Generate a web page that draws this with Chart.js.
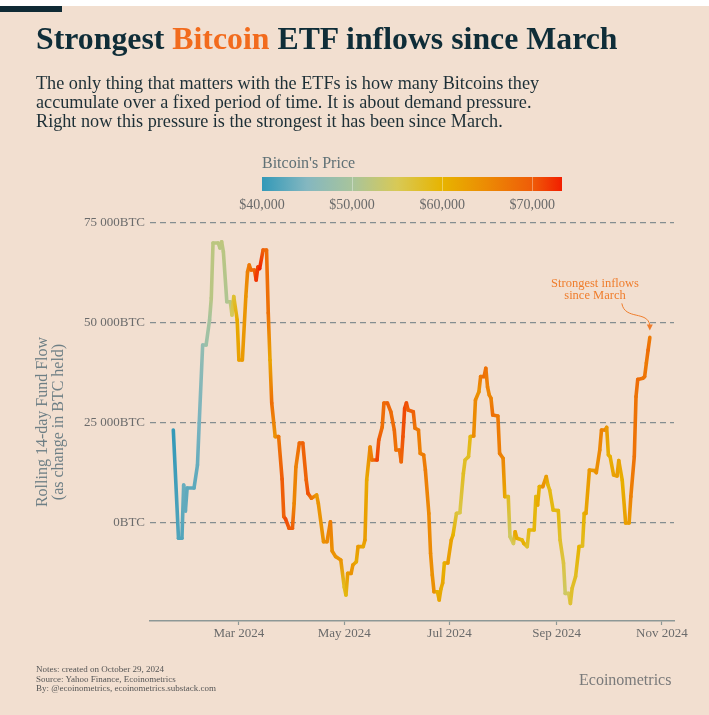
<!DOCTYPE html>
<html>
<head>
<meta charset="utf-8">
<title>Strongest Bitcoin ETF inflows since March</title>
<script src="https://cdn.jsdelivr.net/npm/chart.js@4.4.1/dist/chart.umd.min.js"></script>
<style>
  html, body { margin: 0; padding: 0; background: #f2dfd0; }
  #page { position: relative; width: 709px; height: 715px; overflow: hidden; background: #f2dfd0; font-family: "Liberation Serif", "Times New Roman", serif; }
  #topband { position: absolute; left: 0; top: 0; width: 709px; height: 6px; background: #ffffff; }
  #topbar { position: absolute; left: 0; top: 6px; width: 62px; height: 6px; background: #0f2a35; }
  #title { position: absolute; left: 36px; top: 23px; font-size: 31.8px; line-height: 32px; font-weight: bold; color: #0f2d38; white-space: nowrap; }
  #title span { color: #f26b1d; }
  #subtitle { position: absolute; left: 36px; top: 74px; font-size: 18.2px; line-height: 19px; color: #1d2f36; white-space: nowrap; }
  #legend-title { position: absolute; left: 262px; top: 155px; font-size: 16px; line-height: 16px; color: #5f7075; }
  #colorbar { position: absolute; left: 262px; top: 177px; width: 300px; height: 14px; }
  .cb-label { position: absolute; top: 198px; font-size: 14px; line-height: 14px; color: #6a6a6a; transform: translateX(-50%); white-space: nowrap; }
  .cb-tick { position: absolute; top: 177px; width: 1px; height: 14px; background: rgba(255, 255, 255, 0.35); }
  #ytitle { position: absolute; left: -60.5px; top: 406px; width: 220px; height: 32px; font-size: 16px; line-height: 16px; color: #6e7f85; text-align: center; transform: rotate(-90deg); white-space: nowrap; }
  #annot { position: absolute; left: 545px; top: 278px; width: 100px; font-size: 12.5px; line-height: 11.5px; color: #ef7d2c; text-align: center; white-space: nowrap; }
  #notes { position: absolute; left: 36px; top: 665px; font-size: 9px; line-height: 9.5px; color: #555555; white-space: nowrap; }
  #brand { position: absolute; left: 579px; top: 671px; font-size: 16px; line-height: 18px; color: #7a7a7a; }
  #chart { position: absolute; left: 0; top: 0; }
</style>
</head>
<body>
<div id="page">
  <canvas id="chart" width="709" height="715"></canvas>
  <div id="topband"></div>
  <div id="topbar"></div>
  <div id="title">Strongest <span>Bitcoin</span> ETF inflows since March</div>
  <div id="subtitle">The only thing that matters with the ETFs is how many Bitcoins they<br>accumulate over a fixed period of time. It is about demand pressure.<br>Right now this pressure is the strongest it has been since March.</div>
  <div id="legend-title">Bitcoin's Price</div>
  <div id="colorbar"></div>
  <div id="ytitle">Rolling 14-day Fund Flow<br>(as change in BTC held)</div>
  <div id="annot">Strongest inflows<br>since March</div>
  <div id="notes">Notes: created on October 29, 2024<br>Source: Yahoo Finance, Ecoinometrics<br>By: @ecoinometrics, ecoinometrics.substack.com</div>
  <div id="brand">Ecoinometrics</div>
</div>
<script>
// Data
const dates = [
  '2024-01-23','2024-01-26','2024-01-28','2024-01-29','2024-01-30','2024-01-31','2024-02-04','2024-02-06','2024-02-07','2024-02-09',
  '2024-02-11','2024-02-13','2024-02-14','2024-02-15','2024-02-18','2024-02-19','2024-02-20','2024-02-21','2024-02-23','2024-02-25',
  '2024-02-26','2024-02-27','2024-02-29','2024-03-01','2024-03-03','2024-03-05','2024-03-06','2024-03-07','2024-03-08','2024-03-10',
  '2024-03-11','2024-03-12','2024-03-13','2024-03-15','2024-03-17','2024-03-18','2024-03-19','2024-03-20','2024-03-22','2024-03-24',
  '2024-03-26','2024-03-27','2024-03-28','2024-03-30','2024-04-01','2024-04-02','2024-04-03','2024-04-05','2024-04-07','2024-04-09',
  '2024-04-10','2024-04-12','2024-04-15','2024-04-16','2024-04-19','2024-04-21','2024-04-23','2024-04-24','2024-04-26','2024-04-29',
  '2024-05-01','2024-05-02','2024-05-03','2024-05-05','2024-05-06','2024-05-08','2024-05-09','2024-05-12','2024-05-13','2024-05-14',
  '2024-05-16','2024-05-17','2024-05-20','2024-05-21','2024-05-23','2024-05-24','2024-05-26','2024-05-28','2024-05-30','2024-05-31',
  '2024-06-02','2024-06-03','2024-06-04','2024-06-05','2024-06-06','2024-06-07','2024-06-10','2024-06-11','2024-06-13','2024-06-14',
  '2024-06-16','2024-06-17','2024-06-19','2024-06-20','2024-06-21','2024-06-22','2024-06-24','2024-06-25','2024-06-26','2024-06-27',
  '2024-06-28','2024-06-30','2024-07-02','2024-07-03','2024-07-05','2024-07-07','2024-07-09','2024-07-10','2024-07-12','2024-07-13',
  '2024-07-15','2024-07-16','2024-07-18','2024-07-19','2024-07-21','2024-07-22','2024-07-23','2024-07-24','2024-07-25','2024-07-26',
  '2024-07-29','2024-07-30','2024-08-01','2024-08-02','2024-08-04','2024-08-05','2024-08-07','2024-08-08','2024-08-09','2024-08-12',
  '2024-08-13','2024-08-15','2024-08-16','2024-08-19','2024-08-20','2024-08-21','2024-08-22','2024-08-24','2024-08-26','2024-08-27',
  '2024-08-28','2024-08-30','2024-09-02','2024-09-03','2024-09-05','2024-09-06','2024-09-08','2024-09-09','2024-09-10','2024-09-12',
  '2024-09-14','2024-09-16','2024-09-17','2024-09-18','2024-09-20','2024-09-23','2024-09-24','2024-09-26','2024-09-27','2024-09-29',
  '2024-09-30','2024-10-01','2024-10-02','2024-10-04','2024-10-06','2024-10-07','2024-10-09','2024-10-11','2024-10-13','2024-10-14',
  '2024-10-16','2024-10-17','2024-10-18','2024-10-21','2024-10-22','2024-10-23','2024-10-24','2024-10-25'
];

// rolling 14-day flow, BTC
const flows = [
  23250, -3800, -3800, 9500, 3000, 8750, 8750, 14500, 25000, 44500,
  44500, 50750, 56250, 70000, 70000, 68750, 70300, 67800, 55300, 55300,
  52000, 56600, 50750, 40750, 40750, 56600, 62800, 64500, 63250, 63250,
  60750, 64000, 63600, 68250, 68250, 52500, 40750, 30000, 21600, 21600,
  11000, 1600, 1000, -1300, -1300, 4900, 14000, 20000, 20000, 10750,
  7400, 6200, 7000, 4900, -4700, -4700, 300, -7000, -8400, -9250,
  -16000, -18000, -12600, -12600, -10500, -9700, -5900, -5900, -4250, 10750,
  19000, 15750, 15750, 20750, 24000, 30000, 30000, 27800, 23250, 18250,
  18250, 15300, 21600, 28700, 30000, 28250, 27800, 23700, 23250, 17400,
  17000, 13250, 2400, -7600, -13000, -17200, -17200, -19250, -16500, -15000,
  -10000, -10000, -4250, -3000, 2400, 2600, 12400, 15750, 16600, 21600,
  21750, 30750, 32800, 36600, 36600, 38700, 34000, 32000, 31200, 27000,
  26750, 17400, 16200, 6600, 6600, -3400, -5100, -2200, -3800, -4250,
  -5100, -5900, -1750, -1750, 6600, 4500, 9100, 9100, 11600, 9500,
  8250, 3250, 3100, -4250, -10000, -17600, -17600, -20100, -16300, -13400,
  -5900, -5750, 2400, 2400, 13250, 13100, 12600, 18250, 23250, 23250,
  23900, 17000, 16600, 12000, 11750, 15600, 10750, 0, 0, 6600,
  16600, 31600, 35900, 36200, 36600, 40000, 43250, 46400
];

// bitcoin price on those days, USD (drives the line colour)
const prices = [
  39900, 41800, 42000, 43300, 42900, 42600, 42600, 43100, 44300, 47100,
  48300, 49700, 51800, 52000, 52100, 51800, 52300, 51800, 50700, 51600,
  54500, 57100, 61200, 62400, 63100, 63800, 66100, 66900, 68300, 69000,
  72100, 71500, 73100, 69500, 68400, 67600, 61900, 67900, 64000, 67200,
  70000, 69500, 71000, 69900, 69700, 65500, 66000, 68500, 69400, 69100,
  70600, 67100, 63400, 63800, 64000, 64900, 66400, 64300, 63800, 63800,
  58200, 59100, 62900, 63900, 63200, 61200, 63100, 61500, 62900, 61600,
  65200, 67000, 71400, 70100, 67900, 68500, 69300, 68300, 68400, 67500,
  67800, 68800, 70500, 71100, 70800, 69300, 69600, 67300, 66800, 66000,
  66600, 66500, 65000, 64900, 64100, 64300, 60300, 61800, 60900, 61600,
  60300, 62700, 62100, 60200, 56700, 55800, 58000, 57700, 57900, 59200,
  64800, 65000, 63900, 66700, 68200, 67600, 65900, 65400, 65800, 68000,
  66800, 66200, 65400, 61500, 58100, 54000, 55000, 61700, 60900, 59400,
  60600, 57500, 58900, 59500, 59000, 61200, 60400, 64200, 62900, 59400,
  59000, 59100, 59100, 57500, 56200, 53900, 54800, 57000, 57600, 58100,
  60000, 58200, 60300, 61800, 63200, 63300, 64300, 65200, 65800, 65600,
  63300, 60800, 60600, 62100, 62800, 62200, 60600, 62500, 62900, 66000,
  67600, 67400, 68400, 67400, 67400, 66700, 68200, 66600
];

const xTickDates = ['2024-03-01', '2024-05-01', '2024-07-01', '2024-09-01', '2024-11-01'];
const xTickLabels = ['Mar 2024', 'May 2024', 'Jul 2024', 'Sep 2024', 'Nov 2024'];
const yTicks = [0, 25000, 50000, 75000];
const yTickLabels = ['0BTC', '25 000BTC', '50 000BTC', '75 000BTC'];

// colour scale for the price
const legendTicks = [40000, 50000, 60000, 70000];
const legendLabels = ['$40,000', '$50,000', '$60,000', '$70,000'];
const colorStops = [40000, 45000, 50000, 55000, 60000, 65000, 70000, 73300];
const colorHex = ['#3399b8', '#84b7c0', '#a8c49c', '#d8c956', '#e7b400', '#ec8a04', '#ef5c08', '#f21e00'];

const dayOf = s => (Date.UTC(+s.slice(0, 4), +s.slice(5, 7) - 1, +s.slice(8, 10)) - Date.UTC(2024, 0, 1)) / 86400000;

const hexRgb = h => [1, 3, 5].map(i => parseInt(h.slice(i, i + 2), 16));
function priceColor(p) {
    const lo = colorStops[0], hi = colorStops[colorStops.length - 1];
    p = Math.min(hi, Math.max(lo, p));
    let i = 0;
    while (i < colorStops.length - 2 && p > colorStops[i + 1]) i++;
    const t = (p - colorStops[i]) / (colorStops[i + 1] - colorStops[i]);
    const a = hexRgb(colorHex[i]), b = hexRgb(colorHex[i + 1]);
    const c = a.map((v, k) => Math.round(v + (b[k] - v) * t));
    return `rgb(${c[0]},${c[1]},${c[2]})`;
}

// Legend colour bar
const cbMin = colorStops[0], cbMax = colorStops[colorStops.length - 1];
const pct = v => ((v - cbMin) / (cbMax - cbMin) * 100).toFixed(2) + '%';
document.getElementById('colorbar').style.background =
    'linear-gradient(to right, ' + colorStops.map((v, i) => `${colorHex[i]} ${pct(v)}`).join(', ') + ')';
const page = document.getElementById('page');
legendTicks.forEach((v, i) => {
    const x = 262 + (v - cbMin) / (cbMax - cbMin) * 300;
    const lab = document.createElement('div');
    lab.className = 'cb-label';
    lab.style.left = x + 'px';
    lab.innerText = legendLabels[i];
    page.appendChild(lab);
    if (i > 0) {
        const tk = document.createElement('div');
        tk.className = 'cb-tick';
        tk.style.left = x + 'px';
        page.appendChild(tk);
    }
});

// Arrow from the note to the last point
const arrowPlugin = {
    id: 'arrow',
    afterDatasetsDraw(chart) {
        const meta = chart.getDatasetMeta(0);
        const pt = meta.data[meta.data.length - 1];
        const tx = pt.x, ty = pt.y - 7;
        const c = chart.ctx;
        c.save();
        c.strokeStyle = '#ef7d2c';
        c.fillStyle = '#ef7d2c';
        c.lineWidth = 1;
        c.beginPath();
        c.moveTo(tx - 28, ty - 27);
        c.bezierCurveTo(tx - 25, ty - 10, tx - 2, ty - 20, tx, ty - 5);
        c.stroke();
        c.beginPath();
        c.moveTo(tx - 3, ty - 6);
        c.lineTo(tx + 3, ty - 6);
        c.lineTo(tx, ty);
        c.closePath();
        c.fill();
        c.restore();
    }
};

const font = { family: '"Liberation Serif", "Times New Roman", serif', size: 13 };

new Chart(document.getElementById('chart'), {
    type: 'line',
    data: {
        datasets: [{
            data: dates.map((d, i) => ({ x: dayOf(d), y: flows[i] })),
            borderColor: priceColor(prices[0]),
            borderWidth: 3.6,
            borderCapStyle: 'round',
            borderJoinStyle: 'round',
            pointRadius: 0,
            tension: 0,
            segment: {
                borderColor: ctx => {
                    const g = ctx.chart.ctx.createLinearGradient(ctx.p0.x, ctx.p0.y, ctx.p1.x, ctx.p1.y);
                    g.addColorStop(0, priceColor(prices[ctx.p0DataIndex]));
                    g.addColorStop(1, priceColor(prices[ctx.p1DataIndex]));
                    return g;
                }
            }
        }]
    },
    options: {
        responsive: false,
        animation: false,
        layout: { padding: { top: 203, right: 35, left: 0, bottom: 0 } },
        plugins: { legend: { display: false }, tooltip: { enabled: false } },
        scales: {
            x: {
                type: 'linear',
                min: 8.5,
                max: 312,
                afterBuildTicks: s => { s.ticks = xTickDates.map(d => ({ value: dayOf(d) })); },
                afterFit: s => { s.height = 94; },
                ticks: {
                    callback: (v, i) => xTickLabels[i],
                    font: font,
                    color: '#6b6b6b',
                    padding: 1,
                    maxRotation: 0
                },
                grid: { drawOnChartArea: false, tickLength: 4, tickColor: '#8d9896', tickWidth: 1.2 },
                border: { display: true, color: '#8d9896', width: 1.5 }
            },
            y: {
                min: -24500,
                max: 80000,
                afterBuildTicks: s => { s.ticks = yTicks.map(v => ({ value: v })); },
                afterFit: s => { s.width = 150; },
                ticks: {
                    callback: (v, i) => yTickLabels[i],
                    font: font,
                    color: '#6b6b6b',
                    padding: 5
                },
                grid: { color: '#858e90', lineWidth: 1.2, drawTicks: false },
                border: { display: false, dash: [6, 4] }
            }
        }
    },
    plugins: [arrowPlugin]
});
</script>
</body>
</html>
